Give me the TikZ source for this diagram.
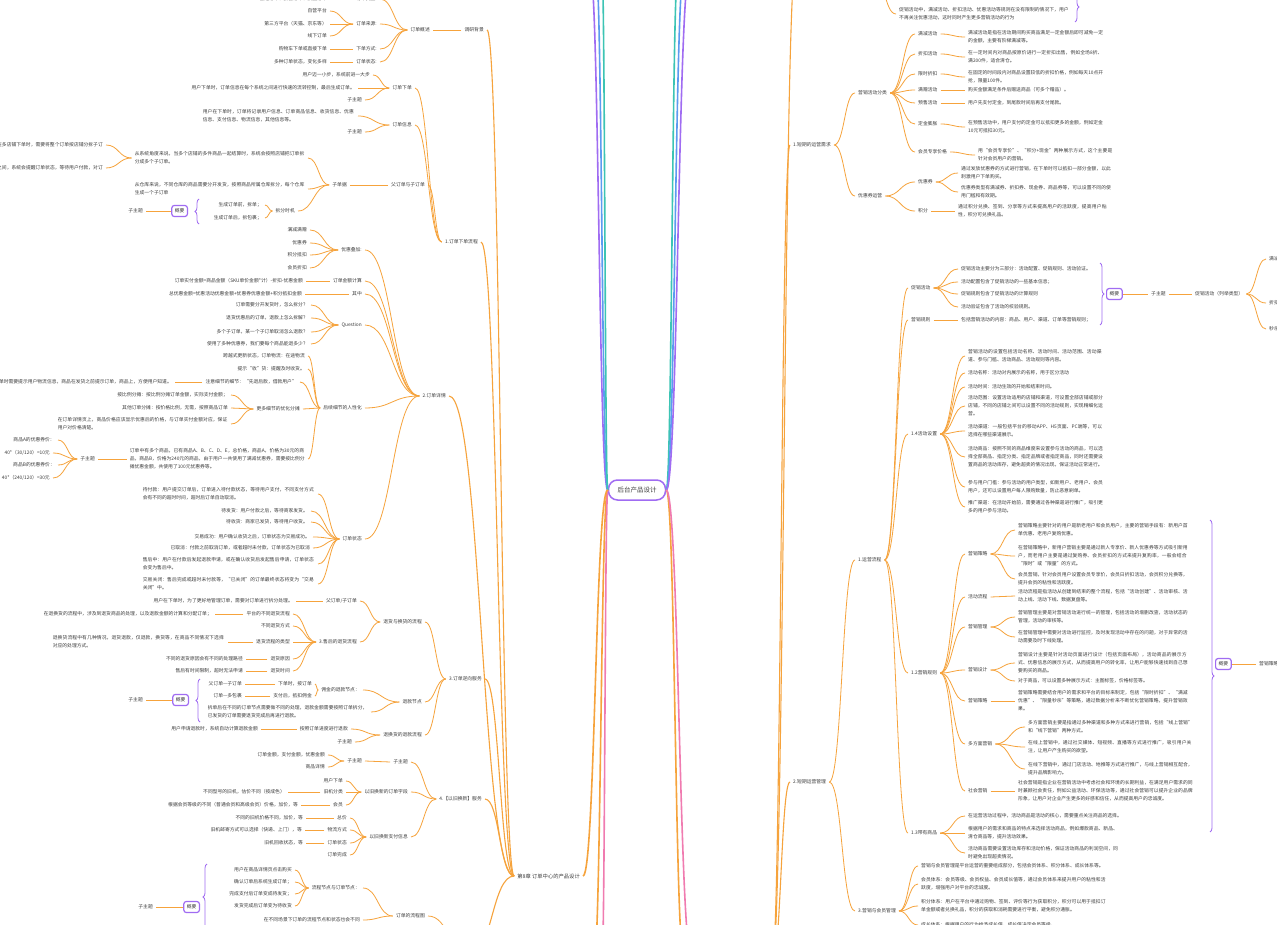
\documentclass[tikz,border=0pt]{standalone}
\usepackage{fontspec}
\newfontfamily\cjk{Noto Sans CJK SC}
\XeTeXlinebreaklocale "zh"
\XeTeXlinebreakskip = 0pt plus 1pt
\usetikzlibrary{calc,decorations.pathreplacing}
\definecolor{org}{HTML}{F6A33C}
\definecolor{pur}{HTML}{A06CF2}
\definecolor{txt}{HTML}{3C3C3C}
\definecolor{blu}{HTML}{5B9BF0}
\definecolor{tea}{HTML}{3CC4B4}
\definecolor{pnk}{HTML}{F07BB0}
\newcommand\cc[3][]{\draw[conn,#1] let \p1=(#2), \p2=(#3) in (\p1) .. controls ({(\x1+\x2)/2},\y1) and ({(\x1+\x2)/2},\y2) .. (\p2);}
\newcommand\lc[3][]{\foreach \cn in {#3}{\cc[#1]{#2.west}{\cn.east}}}
\newcommand\rc[3][]{\foreach \cn in {#3}{\cc[#1]{#2.east}{\cn.west}}}
\begin{document}
\begin{tikzpicture}[x=1pt,y=-1pt,
  every node/.style={font=\cjk\fontsize{4.8}{8}\selectfont, text=txt, inner xsep=3pt, inner ysep=0.5pt},
  L/.style={anchor=east},
  R/.style={anchor=west},
  pl/.style={anchor=east, text width=#1pt, align=left},
  pr/.style={anchor=west, text width=#1pt, align=left},
  conn/.style={draw=org, line width=0.8pt},
  mainln/.style={line width=1.6pt},
  secln/.style={line width=1.1pt},
  sumbox/.style={draw=pur, line width=1.2pt, rounded corners=2.5pt, fill=white, minimum height=11pt, inner xsep=3pt},
  br/.style={draw=pur, line width=0.8pt, decorate, decoration={brace, amplitude=4pt}},
  rootbox/.style={draw=pur, line width=1.5pt, rounded corners=9pt, minimum height=20pt, inner xsep=9pt, fill=white, font=\cjk\fontsize{6.5}{8}\selectfont}
]
\fill[white] (0,0) rectangle (1277,925);
\useasboundingbox (0,0) rectangle (1277,925);

% ================= ROOT =================
\node[rootbox] (root) at (637,490) {后台产品设计};
\coordinate (tl1) at (590,-30);
\coordinate (tl2) at (596,-30);
\coordinate (tl3) at (602,-30);
\coordinate (bl1) at (594,960);
\coordinate (bl2) at (602,960);
\coordinate (tr1) at (678,-30);
\coordinate (tr2) at (684,-30);
\coordinate (tr3) at (690,-30);
\coordinate (br1) at (684,960);
\coordinate (br2) at (692,960);
\cc[mainln,draw=pur]{root.west}{tl1}
\cc[mainln,draw=blu]{root.west}{tl2}
\cc[mainln,draw=tea]{root.west}{tl3}
\cc[mainln]{root.west}{bl1}
\cc[mainln,draw=pnk]{root.west}{bl2}
\cc[mainln,draw=tea]{root.east}{tr1}
\cc[mainln,draw=blu]{root.east}{tr2}
\cc[mainln,draw=pur]{root.east}{tr3}
\cc[mainln]{root.east}{br1}
\cc[mainln,draw=pnk]{root.east}{br2}

% ================= LEFT: CHAPTER =================
\node[L,font=\cjk\fontsize{5.3}{7}\selectfont] (ch) at (583,876) {第8章 订单中心的产品设计};
\cc[mainln]{root.west}{ch.east}

% ---- s0
\node[L] (s0) at (487,30) {调研背景};
\node[L] (a0) at (433,30) {订单概述};
\node[L] (a01) at (380,-1) {订单类型:};
\node[L] (a011) at (330,-1) {普通订单、预售订单、拼团订单};
\node[L] (a02) at (380,24) {订单来源:};
\node[L] (a021) at (330,11) {自营平台};
\node[L] (a022) at (330,24) {第三方平台（天猫、京东等）};
\node[L] (a023) at (330,36) {线下订单};
\node[L] (a03) at (380,49) {下单方式:};
\node[L] (a031) at (330,49) {购物车下单或直接下单};
\node[L] (a04) at (380,62) {订单状态:};
\node[L] (a041) at (330,62) {多种订单状态，变化多样};
\lc{s0}{a0}
\lc{a0}{a01,a02,a03,a04}
\lc{a01}{a011}
\lc{a02}{a021,a022,a023}
\lc{a03}{a031}
\lc{a04}{a041}

% ---- s1
\node[L] (s1) at (481,242) {1.订单下单流程};
\node[L] (b1) at (415,88) {订单下单};
\node[L] (b11) at (373,75) {用户迈一小步，系统前进一大步};
\node[L] (b12) at (358,88) {用户下单时，订单信息在每个系统之间进行快速的流转控制，最后生成订单。};
\node[L] (b13) at (365,100) {子主题};
\node[L] (b2) at (415,125) {订单信息};
\node[pl=152] (b21) at (358,116) {用户在下单时，订单将记录用户信息、订单商品信息、收货信息、优惠信息、支付信息、物流信息，其他信息等。};
\node[L] (b22) at (365,132) {子主题};
\node[L] (b3) at (428,185) {父订单与子订单};
\node[L] (b31) at (350,185) {子单据};
\node[pl=170] (b311) at (308,158) {从系统角度来说，当多个店铺的多件商品一起结算时，系统会按照店铺把订单拆分成多个子订单。};
\node[L] (b3111) at (106,145) {在多店铺下单时，需要将整个订单按店铺分拆子订};
\node[L] (b3112) at (106,168) {子订单之间，系统会提醒订单状态，等待用户付款，对订};
\node[pl=170] (b312) at (308,189) {从仓库来说，不同仓库的商品需要分开发货，按照商品所属仓库拆分，每个仓库生成一个子订单};
\node[L] (b313) at (298,211) {拆分时机};
\node[L] (b3131) at (265,205) {生成订单前，拆单；};
\node[L] (b3132) at (265,218) {生成订单后，拆包裹；};
\draw[br] (199,224) -- (199,199);
\node[sumbox,anchor=east] (sm1) at (188,211) {概要};
\node[L] (sb1) at (146,211) {子主题};
\draw[conn] (sm1.west) -- (sb1.east);
\lc{s1}{b1,b2,b3}
\lc{b1}{b11,b12,b13}
\lc{b2}{b21,b22}
\lc{b3}{b31}
\lc{b31}{b311,b312,b313}
\lc{b311}{b3111,b3112}
\lc{b313}{b3131,b3132}

% ---- s2
\node[L] (s2) at (449,396) {2.订单详情};
\node[L] (c1) at (365,250) {优惠叠加:};
\node[L] (c11) at (310,230) {满减满赠};
\node[L] (c12) at (310,243) {优惠券};
\node[L] (c13) at (310,255) {积分抵扣};
\node[L] (c14) at (310,268) {会员折扣};
\node[L] (c2) at (365,281) {订单金额计算};
\node[L] (c21) at (306,281) {订单实付金额=商品金额（SKU单价金额*计）-折扣-优惠金额};
\node[L] (c3) at (365,294) {其中};
\node[L] (c31) at (305,294) {总优惠金额=优惠活动优惠金额+优惠券优惠金额+积分抵扣金额};
\node[L] (c4) at (365,325) {Question};
\node[L] (c41) at (311,305) {订单需要分开发货时，怎么拆分？};
\node[L] (c42) at (311,318) {退货优惠后的订单，退款上怎么拆解？};
\node[L] (c43) at (311,332) {多个子订单，某一个子订单取消怎么退款？};
\node[L] (c44) at (311,344) {使用了多种优惠券，我们要每个商品能退多少？};
\node[L] (c5) at (365,408) {后续细节的人性化};
\node[L] (c51) at (308,356) {跨越式更新状态，订单物流：在途物流};
\node[L] (c52) at (308,369) {提示“收”货：提醒及时收货。};
\node[L] (c53) at (300,382) {注意细节的细节：“先退后款，借款用户”};
\node[L] (c531) at (175,382) {下单时需要提示用户物流信息，商品在发货之前提示订单，商品上，方便用户知道。};
\node[L] (c54) at (303,409) {更多细节的优化分摊};
\node[L] (c541) at (231,395) {按比例分摊：按比例分摊订单金额，实际支付金额；};
\node[L] (c542) at (231,408) {其他订单分摊：按价格比例，无需，按照商品订单};
\node[pl=170] (c543) at (231,424) {在订单详情页上，商品价格应该显示优惠后的价格，与订单实付金额对应，保证用户对价格清楚。};
\node[pl=175] (c55) at (308,459) {订单中有多个商品，已有商品A、B、C、D、E，总价格，商品A，价格为30元的商品，商品B，价格为240元的商品，由于用户一共使用了满减优惠券，需要按比例分摊优惠金额，共使用了100元优惠券等。};
\node[L] (c551) at (98,459) {子主题};
\node[L] (c5511) at (58,440) {商品A的优惠券价：};
\node[L] (c5512) at (53,453) {40*（30/120）=10元};
\node[L] (c5513) at (58,465) {商品B的优惠券价：};
\node[L] (c5514) at (53,478) {40*（240/120）=30元};
\node[L] (c6) at (365,539) {订单状态};
\node[pl=172] (c61) at (318,494) {待付款：用户提交订单后，订单进入待付款状态，等待用户支付，不同支付方式会有不同的超时时间，超时后订单自动取消。};
\node[L] (c62) at (311,511) {待发货：用户付款之后，等待商家发货。};
\node[L] (c63) at (311,522) {待收货：商家已发货，等待用户收货。};
\node[L] (c64) at (313,537) {交易成功：用户确认收货之后，订单状态为交易成功。};
\node[L] (c65) at (313,548) {已取消：付款之前取消订单，或者超时未付款，订单状态为已取消};
\node[pl=172] (c66) at (318,564) {售后中：用户在付款后发起退款申请，或在确认收货后发起售后申请，订单状态会变为售后中。};
\node[pl=172] (c67) at (318,584) {交易关闭：售后完成或超时未付款等，“已关闭”的订单最终状态将变为“交易关闭”中。};
\lc{s2}{c1,c2,c3,c4,c5,c6}
\lc{c1}{c11,c12,c13,c14}
\lc{c2}{c21}
\lc{c3}{c31}
\lc{c4}{c41,c42,c43,c44}
\lc{c5}{c51,c52,c53,c54,c55}
\lc{c53}{c531}
\lc{c54}{c541,c542,c543}
\lc{c55}{c551}
\lc{c551}{c5511,c5512,c5513,c5514}
\lc{c6}{c61,c62,c63,c64,c65,c66,c67}

% ---- s3
\node[L] (s3) at (485,679) {3.订单逆向服务};
\node[L] (d1) at (425,622) {退货与换货的流程};
\node[L] (d11) at (360,601) {父订单/子订单};
\node[L] (d111) at (296,601) {用户在下单时，为了更好地管理订单，需要对订单进行拆分处理。};
\node[L] (d12) at (360,642) {3.售后的退货流程};
\node[L] (d121) at (293,614) {平台的不同退货流程};
\node[L] (d1211) at (215,614) {在退换货的流程中，涉及到退货商品的处理，以及退款金额的计算和分配订单；};
\node[L] (d122) at (293,626) {不同退货方式};
\node[L] (d123) at (293,642) {退货流程的类型};
\node[pl=172] (d1231) at (228,642) {退换货流程中有几种情况，退货退款，仅退款，换货等，在商品不同情况下选择对应的处理方式。};
\node[L] (d124) at (293,659) {退货原因};
\node[L] (d1241) at (246,659) {不同的退货原因会有不同的处理路径};
\node[L] (d125) at (293,671) {退货时间};
\node[L] (d1251) at (246,671) {售后有时间限制，超时无法申请};
\node[L] (d2) at (425,702) {退款节点};
\node[L] (d21) at (363,690) {佣金的退款节点：};
\node[L] (d211) at (315,684) {下单时，按订单};
\node[L] (d2111) at (245,684) {父订单—子订单};
\node[L] (d212) at (315,696) {支付后，抵扣佣金};
\node[L] (d2121) at (245,696) {订单—多包裹};
\node[pl=160] (d22) at (371,712) {拆单后在不同的订单节点需要做不同的处理，退款金额需要按照订单拆分，已发货的订单需要退货完成后再进行退款。};
\draw[br] (200,722) -- (200,679);
\node[sumbox,anchor=east] (sm2) at (189,700) {概要};
\node[L] (sb2) at (146,700) {子主题};
\draw[conn] (sm2.west) -- (sb2.east);
\node[L] (d3) at (425,735) {退换货的退款流程};
\node[L] (d31) at (351,729) {按照订单进度进行退款};
\node[L] (d311) at (261,729) {用户申请退款时，系统自动计算退款金额};
\node[L] (d32) at (355,742) {子主题};
\lc{s3}{d1,d2,d3}
\lc{d1}{d11,d12}
\lc{d11}{d111}
\lc{d12}{d121,d122,d123,d124,d125}
\lc{d121}{d1211}
\lc{d123}{d1231}
\lc{d124}{d1241}
\lc{d125}{d1251}
\lc{d2}{d21,d22}
\lc{d21}{d211,d212}
\lc{d211}{d2111}
\lc{d212}{d2121}
\lc{d3}{d31,d32}
\lc{d31}{d311}

% ---- s4
\node[L] (s4) at (485,799) {4.【以旧换新】服务};
\node[L] (e1) at (411,762) {子主题};
\node[L] (e11) at (365,761) {子主题};
\node[L] (e111) at (328,755) {订单金额，支付金额，优惠金额};
\node[L] (e112) at (328,767) {商品详情};
\node[L] (e2) at (411,792) {以旧换新的订单字段};
\node[L] (e21) at (346,781) {用户下单};
\node[L] (e22) at (346,792) {旧机分类};
\node[L] (e221) at (288,792) {不同型号的旧机，估价不同（按成色）};
\node[L] (e23) at (346,805) {会员};
\node[L] (e231) at (301,805) {根据会员等级的不同（普通会员和高级会员）价格，加价，等};
\node[L] (e3) at (411,837) {以旧换新支付信息};
\node[L] (e31) at (350,818) {总价};
\node[L] (e311) at (306,818) {不同的旧机价格不同，加价，等};
\node[L] (e32) at (350,830) {物流方式};
\node[L] (e321) at (305,830) {旧机邮寄方式可以选择（快递、上门），等};
\node[L] (e33) at (350,843) {订单状态};
\node[L] (e331) at (306,843) {旧机回收状态，等};
\node[L] (e34) at (350,855) {订单完成};
\lc{s4}{e1,e2,e3}
\lc{e1}{e11}
\lc{e11}{e111,e112}
\lc{e2}{e21,e22,e23}
\lc{e22}{e221}
\lc{e23}{e231}
\lc{e3}{e31,e32,e33,e34}
\lc{e31}{e311}
\lc{e32}{e321}
\lc{e33}{e331}

% ---- s5 (off canvas)
\coordinate (s5) at (470,955);
\node[L] (f0) at (428,916) {订单的流程图};
\node[L] (f1) at (363,888) {流程节点与订单节点：};
\node[L] (f11) at (295,870) {用户在商品详情页点击购买};
\node[L] (f12) at (295,882) {确认订单后系统生成订单；};
\node[L] (f13) at (295,894) {完成支付后订单变成待发货；};
\node[L] (f14) at (295,906) {发货完成后订单变为待收货};
\draw[br] (207,930) -- (207,864);
\node[sumbox,anchor=east] (sm3) at (200,907) {概要};
\node[L] (sb3) at (156,907) {子主题};
\draw[conn] (sm3.west) -- (sb3.east);
\node[L] (f2) at (363,920) {在不同场景下订单的流程节点和状态也会不同};
\cc{s5}{f0.east}
\lc{f0}{f1,f2}
\lc{f1}{f11,f12,f13,f14}

\lc[secln]{ch}{s0,s1,s2,s3,s4}
\cc[secln]{ch.west}{s5}

% ================= RIGHT =================
\coordinate (rp) at (772,965);
\coordinate (tp) at (796,-40);
\coordinate (tq) at (872,-30);
\node[R] (g1) at (790,145) {1.短期的运营需求};
\node[R] (g2) at (790,782) {2.短期运营管理};
\cc[secln]{rp}{g1.west}
\cc[secln]{rp}{g2.west}
\cc[secln]{rp}{tp}

% top right
\node[pr=170] (m1) at (896,-2) {活动类型主要有满减、折扣、秒杀、拼团、预售等多种类型。};
\node[pr=170] (m2) at (896,14) {促销活动中，满减活动、折扣活动、优惠活动等规则在没有限制的情况下，用户不再关注优惠活动，这时同时产生更多营销活动的行为};
\cc{tq}{m1.west}
\cc{tq}{m2.west}
\draw[br] (1075,-8) -- (1075,22);

% g1
\node[R] (h1) at (855,93) {营销活动分类};
\node[R] (h11) at (915,34) {满减活动};
\node[pr=135] (h111) at (965,37) {满减活动是指在活动期间购买商品满足一定金额后即可减免一定的金额，主要有阶梯满减等。};
\node[R] (h12) at (915,54) {折扣活动};
\node[pr=135] (h121) at (965,57) {在一定时间内对商品按原价进行一定折扣出售，例如全场8折、满200件，适合清仓。};
\node[R] (h13) at (915,74) {限时折扣};
\node[pr=135] (h131) at (965,77) {在固定的时间段内对商品设置较低的折扣价格，例如每天10点开抢，限量100件。};
\node[R] (h14) at (915,90) {满赠活动};
\node[R] (h141) at (965,90) {购买金额满足条件后赠送商品（可多个赠品）。};
\node[R] (h15) at (915,103) {预售活动};
\node[R] (h151) at (965,103) {用户先支付定金，到尾款时间后再支付尾款。};
\node[R] (h16) at (915,124) {定金膨胀};
\node[pr=135] (h161) at (965,127) {在预售活动中，用户支付的定金可以抵扣更多的金额，例如定金10元可抵扣30元。};
\node[R] (h17) at (915,152) {会员专享价格};
\node[pr=135] (h171) at (975,155) {用“会员专享价”、“积分+现金”两种展示方式，这个主要是针对会员用户的营销。};
\node[R] (h2) at (855,196) {优惠券运营};
\node[R] (h21) at (915,182) {优惠券};
\node[pr=150] (h211) at (958,173) {通过发放优惠券的方式进行营销，在下单时可以抵扣一部分金额，以此刺激用户下单购买。};
\node[pr=150] (h212) at (958,192) {优惠券类型有满减券、折扣券、现金券、商品券等，可以设置不同的使用门槛和有效期。};
\node[R] (h22) at (915,211) {积分};
\node[pr=150] (h221) at (955,211) {通过积分兑换、签到、分享等方式来提高用户的活跃度，提高用户粘性，积分可兑换礼品。};
\rc{g1}{h1,h2}
\rc{h1}{h11,h12,h13,h14,h15,h16,h17}
\rc{h11}{h111}
\rc{h12}{h121}
\rc{h13}{h131}
\rc{h14}{h141}
\rc{h15}{h151}
\rc{h16}{h161}
\rc{h17}{h171}
\rc{h2}{h21,h22}
\rc{h21}{h211,h212}
\rc{h22}{h221}

% g2
\node[R] (i1) at (855,560) {1.运营流程};
\node[R] (i11) at (908,288) {促销活动};
\node[R] (i111) at (958,269) {促销活动主要分为三部分：活动配置、促销规则、活动验证。};
\node[R] (i112) at (958,282) {活动配置包含了促销活动的一些基本信息；};
\node[R] (i113) at (958,294) {促销规则包含了促销活动的计算规则};
\node[R] (i114) at (958,307) {活动验证包含了活动的校验规则。};
\node[R] (i12) at (908,320) {营销规则};
\node[R] (i121) at (958,320) {包括营销活动的内容：商品、用户、渠道、订单等营销规则；};
\draw[br] (1100,263) -- (1100,325);
\node[sumbox,anchor=west] (sm4) at (1106,294) {概要};
\node[R] (i13) at (1148,294) {子主题};
\node[R] (i14) at (1192,294) {促销活动（列举类型）};
\node[R] (i141) at (1266,259) {满减活动};
\node[R] (i142) at (1266,303) {折扣活动};
\node[R] (i143) at (1266,329) {秒杀活动};
\draw[conn] (sm4.east) -- (i13.west);
\draw[conn] (i13.east) -- (i14.west);
\rc{i14}{i141,i142,i143}

\node[R] (i15) at (908,434) {1.4活动设置};
\node[pr=135] (i151) at (965,356) {营销活动的设置包括活动名称、活动时间、活动范围、活动渠道、参与门槛、活动商品、活动规则等内容。};
\node[R] (i152) at (965,373) {活动名称：活动对内展示的名称，用于区分活动};
\node[R] (i153) at (965,387) {活动时间：活动生效的开始和结束时间。};
\node[pr=135] (i154) at (965,406) {活动范围：设置活动适用的店铺和渠道，可设置全部店铺或部分店铺，不同的店铺之间可以设置不同的活动规则，实现精细化运营。};
\node[pr=135] (i155) at (965,431) {活动渠道：一般包括平台的移动APP、H5页面、PC端等，可以选择在哪些渠道展示。};
\node[pr=135] (i156) at (965,457) {活动商品：按照不同的商品维度来设置参与活动的商品，可以选择全部商品、指定分类、指定品牌或者指定商品，同时还需要设置商品的活动库存，避免超卖的情况出现，保证活动正常进行。};
\node[pr=135] (i157) at (965,487) {参与用户门槛：参与活动的用户类型，如新用户、老用户、会员用户，还可以设置用户每人限购数量，防止恶意刷单。};
\node[pr=135] (i158) at (965,507) {推广渠道：在活动开始前，需要通过各种渠道进行推广，吸引更多的用户参与活动。};

\node[R] (i16) at (908,673) {1.2营销规则};
\node[R] (j1) at (965,554) {营销策略};
\node[pr=170] (j11) at (1015,530) {营销策略主要针对的用户是新老用户和会员用户，主要的营销手段有：新用户首单优惠、老用户复购优惠。};
\node[pr=170] (j12) at (1015,556) {在营销策略中，新用户营销主要是通过新人专享价、新人优惠券等方式吸引新用户，而老用户主要是通过复购券、会员折扣的方式来提升复购率，一般会结合“限时”或“限量”的方式。};
\node[pr=170] (j13) at (1015,579) {会员营销，针对会员用户设置会员专享价，会员日折扣活动，会员积分兑换等，提升会员的粘性和活跃度。};
\node[R] (j2) at (965,597) {活动流程};
\node[pr=170] (j21) at (1015,596) {活动流程是指活动从创建到结束的整个流程，包括“活动创建”、活动审核、活动上线、活动下线、数据复盘等。};
\node[R] (j3) at (965,627) {营销管理};
\node[pr=170] (j31) at (1015,617) {营销管理主要是对营销活动进行统一的管理，包括活动的增删改查，活动状态的管理，活动的审核等。};
\node[pr=170] (j32) at (1015,637) {在营销管理中需要对活动进行监控，及时发现活动中存在的问题，对于异常的活动需要及时下线处理。};
\node[R] (j4) at (965,670) {营销设计};
\node[pr=170] (j41) at (1015,663) {营销设计主要是针对活动页面进行设计（包括页面布局），活动商品的展示方式、优惠信息的展示方式，从而提高用户的转化率，让用户能够快速找到自己想要购买的商品。};
\node[R] (j42) at (1015,681) {对于商品，可以设置多种展示方式：主图标签，价格标签等。};
\node[R] (j5) at (965,701) {营销策略};
\node[pr=170] (j51) at (1015,701) {营销策略需要结合用户的需求和平台的目标来制定，包括“限时折扣”、“满减优惠”、“限量秒杀”等策略，通过数据分析来不断优化营销策略，提升营销效果。};
\node[R] (j6) at (965,744) {多方面营销};
\node[pr=165] (j61) at (1025,727) {多方面营销主要是指通过多种渠道和多种方式来进行营销，包括“线上营销”和“线下营销”两种方式。};
\node[pr=165] (j62) at (1025,747) {在线上营销中，通过社交媒体、短视频、直播等方式进行推广，吸引用户关注，让用户产生购买的欲望。};
\node[pr=165] (j63) at (1025,769) {在线下营销中，通过门店活动、地推等方式进行推广，与线上营销相互配合，提升品牌影响力。};
\node[R] (j7) at (965,791) {社会营销};
\node[pr=175] (j71) at (1015,791) {社会营销是指企业在营销活动中考虑社会和环境的长期利益，在满足用户需求的同时兼顾社会责任，例如公益活动、环保活动等，通过社会营销可以提升企业的品牌形象，让用户对企业产生更多的好感和信任，从而提高用户的忠诚度。};
\draw[br] (1210,520) -- (1210,832);
\node[sumbox,anchor=west] (sm5) at (1215,664) {概要};
\node[R] (j8) at (1256,664) {营销策略的相关说明};
\draw[conn] (sm5.east) -- (j8.west);

\node[R] (i17) at (908,833) {1.3带有商品};
\node[R] (k1) at (965,816) {在运营活动过程中，活动商品是活动的核心，需要重点关注商品的选择。};
\node[pr=150] (k2) at (965,833) {根据用户的需求和商品的特点来选择活动商品，例如爆款商品、新品、清仓商品等，提升活动效果。};
\node[pr=150] (k3) at (965,853) {活动商品需要设置活动库存和活动价格，保证活动商品的利润空间，同时避免出现超卖情况。};

\node[R] (i2) at (855,911) {3.营销与会员管理};
\node[R] (l1) at (918,866) {营销与会员管理是平台运营的重要组成部分，包括会员体系、积分体系、成长体系等。};
\node[pr=185] (l2) at (918,884) {会员体系：会员等级、会员权益、会员成长值等，通过会员体系来提升用户的粘性和活跃度，增强用户对平台的忠诚度。};
\node[pr=185] (l3) at (918,906) {积分体系：用户在平台中通过购物、签到、评价等行为获取积分，积分可以用于抵扣订单金额或者兑换礼品，积分的获取和消耗需要进行平衡，避免积分通胀。};
\node[R] (l4) at (918,925) {成长体系：根据用户的行为给予成长值，成长值决定会员等级。};

\rc{g2}{i1,i2}
\rc{i1}{i11,i12,i15,i16,i17}
\rc{i11}{i111,i112,i113,i114}
\rc{i12}{i121}
\rc{i15}{i151,i152,i153,i154,i155,i156,i157,i158}
\rc{i16}{j1,j2,j3,j4,j5,j6,j7}
\rc{j1}{j11,j12,j13}
\rc{j2}{j21}
\rc{j3}{j31,j32}
\rc{j4}{j41,j42}
\rc{j5}{j51}
\rc{j6}{j61,j62,j63}
\rc{j7}{j71}
\rc{i17}{k1,k2,k3}
\rc{i2}{l1,l2,l3,l4}
\end{tikzpicture}
\end{document}
